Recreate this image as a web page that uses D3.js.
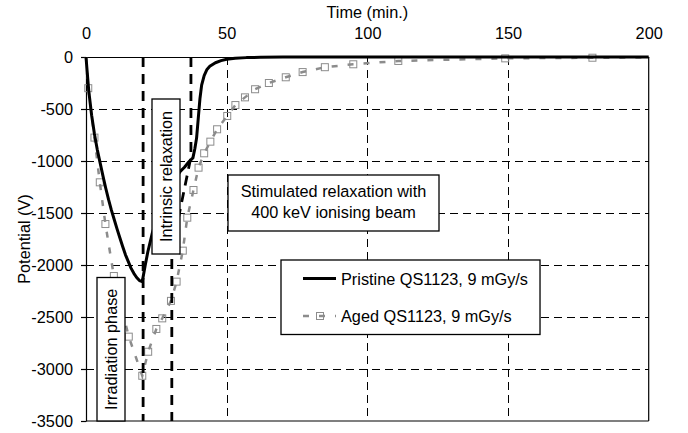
<!DOCTYPE html>
<html>
<head>
<meta charset="utf-8">
<script src="https://cdn.jsdelivr.net/npm/d3@7"></script>
<style>
  html, body { margin: 0; padding: 0; background: #fff; }
  svg { display: block; font-family: "Liberation Sans", Arial, sans-serif; }
</style>
</head>
<body>
<svg id="chart" width="688" height="433"></svg>
<script>
// ---------- data ----------
const timeTicks = [0, 50, 100, 150, 200];
const potentialTicks = [0, -500, -1000, -1500, -2000, -2500, -3000, -3500];
const potentialTickLabels = ["0", "-500", "-1000", "-1500", "-2000", "-2500", "-3000", "-3500"];

const pristineTime = [0, 0.5, 1, 2, 3, 4, 5, 6, 7, 8, 9, 10, 11, 12, 13, 14, 15, 16, 17, 18, 19, 20,
  21, 22, 23.5, 26, 29, 31.5, 33.5, 35, 36.5, 38, 38.7, 39.3, 40, 40.5, 41.1, 42, 43, 44, 46, 48, 50,
  53, 57, 62, 70, 80, 100, 150, 200];
const pristinePotential = [0, -170, -330, -560, -740, -890, -1015, -1140, -1260, -1370, -1470, -1560,
  -1650, -1735, -1820, -1900, -1965, -2030, -2080, -2120, -2150, -2160,
  -2010, -1870, -1700, -1480, -1300, -1180, -1100, -1060, -1010, -970, -880, -780, -560, -400, -270,
  -180, -120, -90, -55, -35, -22, -12, -6, -3, -1, 0, 0, 0, 0];

const agedTime = [0, 0.8, 3.0, 4.9, 6.9, 9.9, 15.2, 20.0, 22.1, 25.0, 27.1, 30.2, 32.2, 34.4, 36.0,
  38.2, 40.0, 42.0, 44.2, 46.6, 50.2, 53.1, 56.5, 60.1, 65.0, 71.0, 77.0, 84.9, 95.0, 111, 149, 180, 200];
const agedPotential = [0, -300, -775, -1205, -1606, -2106, -2689, -3065, -2834, -2615, -2513, -2345,
  -2160, -1862, -1545, -1279, -1064, -926, -814, -695, -567, -462, -388, -310, -250, -195, -145, -98,
  -70, -38, -13, -7, -5];

const seriesNames = ["Pristine QS1123, 9 mGy/s", "Aged QS1123, 9 mGy/s"];

// phase boundaries (time, potential) polylines
const irradiationEndLine = [[20.3, 0], [20.3, -3500]];
const intrinsicEndLine = [[37.3, 0], [37.3, -960], [30.5, -1860], [30.5, -3500]];

const annotationTexts = ["Irradiation phase", "Intrinsic relaxation",
  "Stimulated relaxation with", "400 keV ionising beam"];

// ---------- chart ----------
const svg = d3.select("#chart");
const x = d3.scaleLinear().domain([0, 200]).range([86, 648.7]);
const y = d3.scaleLinear().domain([-3500, 0]).range([421, 57]);
const FS = 16.3;

// grid
const grid = svg.append("g").attr("stroke", "#000").attr("stroke-width", 1)
  .attr("stroke-dasharray", "8,5").attr("shape-rendering", "crispEdges");
grid.selectAll("line.h").data(potentialTicks.filter(d => d !== 0 && d !== -3500)).join("line")
  .attr("x1", x(0)).attr("x2", x(200)).attr("y1", d => Math.round(y(d)) + 0.5).attr("y2", d => Math.round(y(d)) + 0.5);
grid.selectAll("line.v").data(timeTicks.filter(d => d !== 0 && d !== 200)).join("line")
  .attr("x1", d => Math.round(x(d)) + 0.5).attr("x2", d => Math.round(x(d)) + 0.5).attr("y1", y(0)).attr("y2", y(-3500));

// borders
svg.append("line").attr("x1", x(200)).attr("x2", x(200)).attr("y1", y(0)).attr("y2", y(-3500))
  .attr("stroke", "#000").attr("stroke-width", 1.2);
svg.append("line").attr("x1", x(0)).attr("x2", x(200)).attr("y1", y(-3500)).attr("y2", y(-3500))
  .attr("stroke", "#000").attr("stroke-width", 1.2);

// axes
const xAxis = svg.append("g").attr("transform", `translate(0,${y(0)})`)
  .call(d3.axisTop(x).tickValues(timeTicks).tickSize(0).tickPadding(18).tickSizeOuter(0));
const yAxis = svg.append("g").attr("transform", `translate(${x(0)},0)`)
  .call(d3.axisLeft(y).tickValues(potentialTicks).tickSize(5).tickPadding(8).tickSizeOuter(0)
    .tickFormat((d, i) => potentialTickLabels[i]));
[xAxis, yAxis].forEach(a => {
  a.selectAll("text").attr("font-size", FS).attr("fill", "#000").attr("font-family", "Liberation Sans, Arial, sans-serif");
  a.selectAll("path, line").attr("stroke", "#000").attr("stroke-width", 1.2);
});

svg.append("text").attr("x", (x(0) + x(200)) / 2).attr("y", 18).attr("text-anchor", "middle")
  .attr("font-size", FS).text("Time (min.)");
svg.append("text").attr("transform", `translate(30,${(y(0) + y(-3500)) / 2}) rotate(-90)`)
  .attr("text-anchor", "middle").attr("font-size", FS).text("Potential (V)");

// aged series
const agedData = agedTime.map((t, i) => [t, agedPotential[i]]);
const line = d3.line().x(d => x(d[0])).y(d => y(d[1]));
svg.append("path").datum(agedData).attr("d", line).attr("fill", "none")
  .attr("stroke", "#8c8c8c").attr("stroke-width", 2.5).attr("stroke-dasharray", "6,10");
svg.selectAll("rect.aged").data(agedData.slice(1, -1)).join("rect").attr("class", "aged")
  .attr("x", d => x(d[0]) - 3.5).attr("y", d => y(d[1]) - 3.5).attr("width", 7).attr("height", 7)
  .attr("fill", "none").attr("stroke", "#8c8c8c").attr("stroke-width", 1);

// pristine series
const pristineData = pristineTime.map((t, i) => [t, pristinePotential[i]]);
svg.append("path").datum(pristineData).attr("d", line).attr("fill", "none")
  .attr("stroke", "#000").attr("stroke-width", 3).attr("stroke-linejoin", "round");

// phase boundary lines
[irradiationEndLine, intrinsicEndLine].forEach(pts => {
  svg.append("path").datum(pts).attr("d", line).attr("fill", "none")
    .attr("stroke", "#000").attr("stroke-width", 2.8).attr("stroke-dasharray", "10,7");
});

// annotation boxes
function vBox(x0, y0, w, h, txt) {
  svg.append("rect").attr("x", x0).attr("y", y0).attr("width", w).attr("height", h)
    .attr("fill", "#fff").attr("stroke", "#000").attr("stroke-width", 1.3);
  svg.append("text").attr("transform", `translate(${x0 + w / 2 + 6},${y0 + h / 2}) rotate(-90)`)
    .attr("text-anchor", "middle").attr("font-size", FS).text(txt);
}
vBox(97, 277.5, 28, 143.5, annotationTexts[0]);
vBox(152, 99, 28, 155, annotationTexts[1]);

// stimulated box
svg.append("rect").attr("x", 228).attr("y", 175).attr("width", 211).attr("height", 56)
  .attr("fill", "#fff").attr("stroke", "#000").attr("stroke-width", 1.3);
svg.append("text").attr("x", 333.5).attr("y", 197).attr("text-anchor", "middle").attr("font-size", FS).text(annotationTexts[2]);
svg.append("text").attr("x", 333.5).attr("y", 218).attr("text-anchor", "middle").attr("font-size", FS).text(annotationTexts[3]);

// legend
const lg = svg.append("g");
const legRect = lg.append("rect").attr("x", 281).attr("y", 260).attr("height", 74.5)
  .attr("fill", "#fff").attr("stroke", "#000").attr("stroke-width", 1.3);
lg.append("line").attr("x1", 303).attr("x2", 336).attr("y1", 278.5).attr("y2", 278.5)
  .attr("stroke", "#000").attr("stroke-width", 3);
const t1 = lg.append("text").attr("x", 341).attr("y", 284.5).attr("font-size", FS).text(seriesNames[0]);
lg.append("line").attr("x1", 303).attr("x2", 336).attr("y1", 316).attr("y2", 316)
  .attr("stroke", "#8c8c8c").attr("stroke-width", 2.5).attr("stroke-dasharray", "6,10");
lg.append("rect").attr("x", 316.5).attr("y", 312.5).attr("width", 7).attr("height", 7)
  .attr("fill", "none").attr("stroke", "#8c8c8c").attr("stroke-width", 1);
const t2 = lg.append("text").attr("x", 341).attr("y", 322).attr("font-size", FS).text(seriesNames[1]);
const tw = Math.max(t1.node().getComputedTextLength(), t2.node().getComputedTextLength());
legRect.attr("width", 341 + tw + 12 - 281);
</script>
</body>
</html>
